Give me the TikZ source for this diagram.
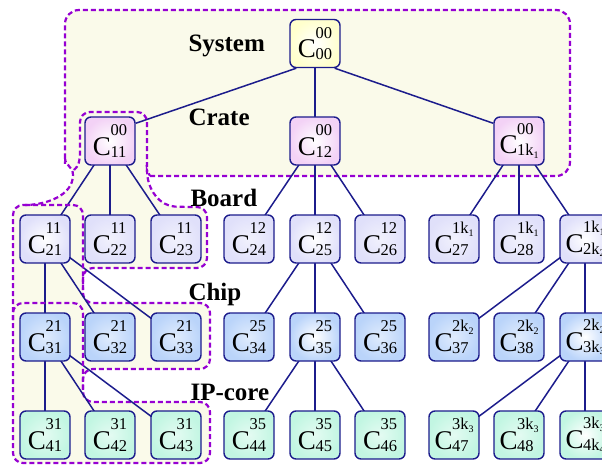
\documentclass[tikz,border=0pt]{standalone}
\usepackage{fontspec}
\setmainfont{Liberation Serif}
\usetikzlibrary{backgrounds}

\definecolor{navy}{RGB}{28,28,140}
\definecolor{grpline}{RGB}{150,0,210}
\definecolor{grpfill}{RGB}{250,250,234}
\definecolor{sysc}{RGB}{255,255,205}
\definecolor{cratec}{RGB}{243,210,246}
\definecolor{boardc}{RGB}{224,224,250}
\definecolor{chipc}{RGB}{186,212,250}
\definecolor{ipc}{RGB}{194,246,226}

% C with a superscript index stacked over a subscript index
\newcommand\clabel[2]{\fontsize{27}{27}\selectfont C\kern-0.5pt\raisebox{-2pt}{\vbox{\fontsize{16.5}{21.5}\selectfont\hbox{#1}\hbox{#2}}}}
\newcommand\lowsub[1]{\raisebox{-2.5pt}{\fontsize{10}{10}\selectfont #1}}

\tikzset{
  box/.style={rounded corners=6pt, draw=navy, line width=1.4pt,
    minimum width=50pt, minimum height=48pt, inner sep=0pt, text=black},
  leaf/.style={box, inner color=#1!45!white, outer color=#1},
  hub/.style={box, inner color=white, outer color=#1},
  edge/.style={draw=navy, line width=1.5pt},
  grp/.style={draw=grpline, line width=2.2pt, dash pattern=on 5pt off 3pt},
  level/.style={anchor=base west, font=\bfseries\fontsize{25}{25}\selectfont},
}

\begin{document}
\begin{tikzpicture}[x=1pt, y=-1pt]
\useasboundingbox (0,0) rectangle (602,465);
\clip (0,0) rectangle (602,465);

% level captions
\node[level] (lsys)   at (185,52)  {System};
\node[level] (lcrate) at (185,126) {Crate};
\node[level] (lboard) at (187,207) {Board};
\node[level] (lchip)  at (185,300) {Chip};
\node[level] (lip)    at (187,400) {IP-core};

% system and crates
\node[hub=sysc]   (c00) at (315,43.5) {\clabel{00}{00}};
\node[hub=cratec] (c11) at (110,141) {\clabel{00}{11}};
\node[hub=cratec] (c12) at (315,141) {\clabel{00}{12}};
\node[hub=cratec] (c1k) at (519,141) {\clabel{00}{1k\lowsub{1}}};

% boards
\node[hub=boardc]  (c21) at (45,239)  {\clabel{11}{21}};
\node[leaf=boardc] (c22) at (110,239) {\clabel{11}{22}};
\node[leaf=boardc] (c23) at (176,239) {\clabel{11}{23}};
\node[leaf=boardc] (c24) at (249,239) {\clabel{12}{24}};
\node[hub=boardc]  (c25) at (315,239) {\clabel{12}{25}};
\node[leaf=boardc] (c26) at (380,239) {\clabel{12}{26}};
\node[leaf=boardc] (c27) at (454,239) {\clabel{1k\lowsub{1}}{27}};
\node[leaf=boardc] (c28) at (519,239) {\clabel{1k\lowsub{1}}{28}};
\node[hub=boardc]  (c2k) at (585,239) {\clabel{1k\lowsub{1}}{2k\lowsub{2}}};

% chips
\node[leaf=chipc] (c31) at (45,337)  {\clabel{21}{31}};
\node[leaf=chipc] (c32) at (110,337) {\clabel{21}{32}};
\node[leaf=chipc] (c33) at (176,337) {\clabel{21}{33}};
\node[leaf=chipc] (c34) at (249,337) {\clabel{25}{34}};
\node[hub=chipc]  (c35) at (315,337) {\clabel{25}{35}};
\node[leaf=chipc] (c36) at (380,337) {\clabel{25}{36}};
\node[leaf=chipc] (c37) at (454,337) {\clabel{2k\lowsub{2}}{37}};
\node[leaf=chipc] (c38) at (519,337) {\clabel{2k\lowsub{2}}{38}};
\node[hub=chipc]  (c3k) at (585,337) {\clabel{2k\lowsub{2}}{3k\lowsub{3}}};

% IP cores
\node[leaf=ipc] (c41) at (45,435)  {\clabel{31}{41}};
\node[leaf=ipc] (c42) at (110,435) {\clabel{31}{42}};
\node[leaf=ipc] (c43) at (176,435) {\clabel{31}{43}};
\node[leaf=ipc] (c44) at (249,435) {\clabel{35}{44}};
\node[leaf=ipc] (c45) at (315,435) {\clabel{35}{45}};
\node[leaf=ipc] (c46) at (380,435) {\clabel{35}{46}};
\node[leaf=ipc] (c47) at (454,435) {\clabel{3k\lowsub{3}}{47}};
\node[leaf=ipc] (c48) at (519,435) {\clabel{3k\lowsub{3}}{48}};
\node[hub=ipc]  (c4k) at (585,435) {\clabel{3k\lowsub{3}}{4k\lowsub{4}}};

\begin{pgfonlayer}{background}
  % shaded group region with its outline
  \draw[grp, fill=grpfill]
    (150,176) [rounded corners=14pt] -- (570,176) -- (570,10) -- (65,10) -- (65,150)
    [sharp corners] -- (65,158) .. controls (65,166) and (73,166) .. (73,175)
    .. controls (73,196) and (45,205) .. (25,205)
    [rounded corners=10pt] -- (13,205) -- (13,463) -- (210,463) -- (210,402)
    -- (83,402) -- (83,369) -- (210,369) -- (210,303) -- (83,303) -- (83,268)
    -- (207,268) -- (207,207) -- (185,207)
    [sharp corners] .. controls (160,206) and (147,190) .. (147,170) -- cycle;

  % tree edges
  \draw[edge] ([xshift=7pt]c00.south west) -- ([yshift=-7pt]c11.north east);
  \draw[edge] ([xshift=-6pt]c00.south east) -- ([yshift=-7pt]c1k.north west);
  \foreach \p/\c in {c00/c12,
      c11/c21, c11/c22, c11/c23, c12/c24, c12/c25, c12/c26, c1k/c27, c1k/c28, c1k/c2k,
      c21/c31, c21/c32, c21/c33, c25/c34, c25/c35, c25/c36, c2k/c37, c2k/c38, c2k/c3k,
      c31/c41, c31/c42, c31/c43, c35/c44, c35/c45, c35/c46, c3k/c47, c3k/c48, c3k/c4k}
    \draw[edge] (\p.center) -- (\c.center);

  % inner group outlines
  \draw[grp] (74,170) .. controls (79,166) and (80,160) .. (80,152)
    [rounded corners=10pt] -- (80,112) -- (147,112) -- (147,172);
  \draw[grp, rounded corners=10pt] (25,205) -- (83,205) -- (83,290);
  \draw[grp, rounded corners=10pt] (13,320) -- (13,303) -- (83,303) -- (83,392);
\end{pgfonlayer}
\end{tikzpicture}
\end{document}
